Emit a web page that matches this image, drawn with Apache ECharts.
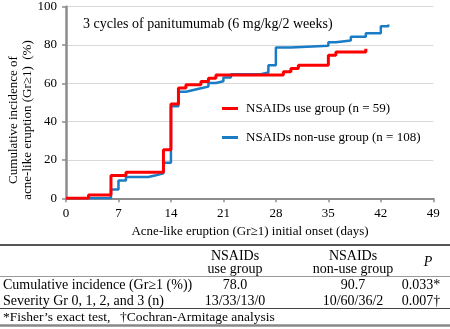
<!DOCTYPE html>
<html><head><meta charset="utf-8">
<script src="https://cdn.jsdelivr.net/npm/echarts@6/dist/echarts.min.js"></script>
<style>html,body{margin:0;padding:0;background:#fff}#c{width:450px;height:329px}</style>
</head><body><div id="c"></div>
<script>
// ---- data ----
const xTicks = [0, 7, 14, 21, 28, 35, 42, 49];
const yTicks = [0, 20, 40, 60, 80, 100];
const useDays = [0, 3, 6, 8, 13, 14, 15, 16, 18, 19, 20, 29, 30, 31, 35, 36, 40];
const usePct  = [0, 1.7, 11.9, 13.6, 25.4, 49.2, 57.6, 59.3, 61.0, 62.7, 64.4, 66.1, 67.8, 69.5, 74.6, 76.3, 78.0];
const nonUseDays = [0, 6, 7, 8, 11, 12, 13, 14, 15, 16, 17, 18, 19, 20, 21, 22, 26, 27, 28, 30, 35, 36, 38, 40, 42, 43];
const nonUsePct  = [0, 4.6, 9.3, 11.1, 12.0, 13.0, 18.5, 48.1, 55.6, 56.5, 57.4, 58.3, 60.2, 61.1, 63.0, 64.8, 65.7, 69.4, 78.7, 79.6, 81.5, 82.4, 84.3, 86.1, 89.8, 90.7];
const seriesNames = ['NSAIDs use group (n = 59)', 'NSAIDs non-use group (n = 108)'];
const chartNote = '3 cycles of panitumumab (6 mg/kg/2 weeks)';
const xTitle = 'Acne-like eruption (Gr≥1) initial onset (days)';
const yTitle = ['Cumulative incidence of', 'acne-like eruption (Gr≥1)  (%)'];
const tableHeader = [['NSAIDs', 'use group'], ['NSAIDs', 'non-use group'], ['P']];
const rowLabels = ['Cumulative incidence (Gr≥1 (%))', 'Severity Gr 0, 1, 2, and 3 (n)'];
const useCol = ['78.0', '13/33/13/0'];
const nonUseCol = ['90.7', '10/60/36/2'];
const pCol = ['0.033*', '0.007†'];
const footnotes = ['*Fisher’s exact test,', '†Cochran-Armitage analysis'];

// ---- chart ----
const FONT = '"Liberation Serif", "Times New Roman", serif';
const chart = echarts.init(document.getElementById('c'), null, {renderer: 'canvas'});
const pair = (xs, ys) => xs.map((x, i) => [x, ys[i]]);
const txt = (x, y, s, opts) => Object.assign({
  type: 'text', x: x, y: y,
  style: Object.assign({text: s, font: '14px ' + FONT, fill: '#000', align: 'center', verticalAlign: 'middle'}, (opts && opts.style) || {})
}, (opts && opts.el) || {});
const hline = (y, w, c) => ({type: 'line', shape: {x1: 0, y1: y, x2: 450, y2: y}, style: {stroke: c, lineWidth: w}});

const col1 = 235, col2 = 353, col3 = 421;
const graphics = [
  txt(83, 24, chartNote, {style: {align: 'left'}}),
  txt(250, 232, xTitle, {style: {font: '13px ' + FONT}}),
  txt(21, 120, yTitle.join('\n'), {style: {font: '13px ' + FONT, lineHeight: 14}, el: {rotation: Math.PI / 2}}),
  hline(245, 2, '#555'),
  hline(276.5, 1, '#999'),
  hline(308.5, 1.2, '#444'),
  hline(325.5, 2.5, '#888'),
  txt(col1, 256, tableHeader[0][0]), txt(col1, 269, tableHeader[0][1]),
  txt(col2, 256, tableHeader[1][0]), txt(col2, 269, tableHeader[1][1]),
  txt(428, 262, tableHeader[2][0], {style: {font: 'italic 14px ' + FONT}}),
];
[285, 301].forEach((y, i) => {
  graphics.push(txt(3, y, rowLabels[i], {style: {align: 'left'}}));
  graphics.push(txt(col1, y, useCol[i]));
  graphics.push(txt(col2, y, nonUseCol[i]));
  graphics.push(txt(col3, y, pCol[i]));
});
graphics.push(txt(3, 317, footnotes[0], {style: {align: 'left', font: '13.5px ' + FONT}}));
graphics.push(txt(120, 317, footnotes[1], {style: {align: 'left', font: '13.5px ' + FONT}}));

chart.setOption({
  animation: false,
  backgroundColor: '#fff',
  grid: {left: 66, right: 16.7, top: 6.7, bottom: 130.7, containLabel: false},
  xAxis: {
    type: 'value', min: xTicks[0], max: xTicks[xTicks.length - 1], interval: 7,
    axisLine: {show: true, lineStyle: {color: '#8c8c8c', width: 2}},
    axisTick: {show: true, length: 4, lineStyle: {color: '#8c8c8c', width: 1.5}},
    axisLabel: {color: '#000', fontFamily: FONT, fontSize: 13, margin: 9},
    splitLine: {show: false}
  },
  yAxis: {
    type: 'value', min: yTicks[0], max: yTicks[yTicks.length - 1], interval: 20,
    axisLine: {show: true, lineStyle: {color: '#8c8c8c', width: 2.5}},
    axisTick: {show: true, length: 4, lineStyle: {color: '#8c8c8c', width: 1.5}},
    axisLabel: {color: '#000', fontFamily: FONT, fontSize: 13, margin: 9},
    splitLine: {show: true, lineStyle: {color: '#d9d9d9', width: 1}}
  },
  legend: {
    orient: 'vertical', left: 217, top: 97, itemGap: 16,
    itemWidth: 16, itemHeight: 3, icon: 'rect',
    data: [seriesNames[0], seriesNames[1]],
    textStyle: {color: '#000', fontFamily: FONT, fontSize: 13, padding: [0, 0, 0, 3]}
  },
  series: [
    {name: seriesNames[1], type: 'line', step: 'end', data: pair(nonUseDays, nonUsePct),
     showSymbol: false, lineStyle: {color: '#1b7cc6', width: 2.5}, itemStyle: {color: '#1b7cc6'}, z: 2},
    {name: seriesNames[0], type: 'line', step: 'end', data: pair(useDays, usePct),
     showSymbol: false, lineStyle: {color: '#ff0000', width: 3}, itemStyle: {color: '#ff0000'}, z: 3}
  ],
  graphic: graphics
});
</script></body></html>
